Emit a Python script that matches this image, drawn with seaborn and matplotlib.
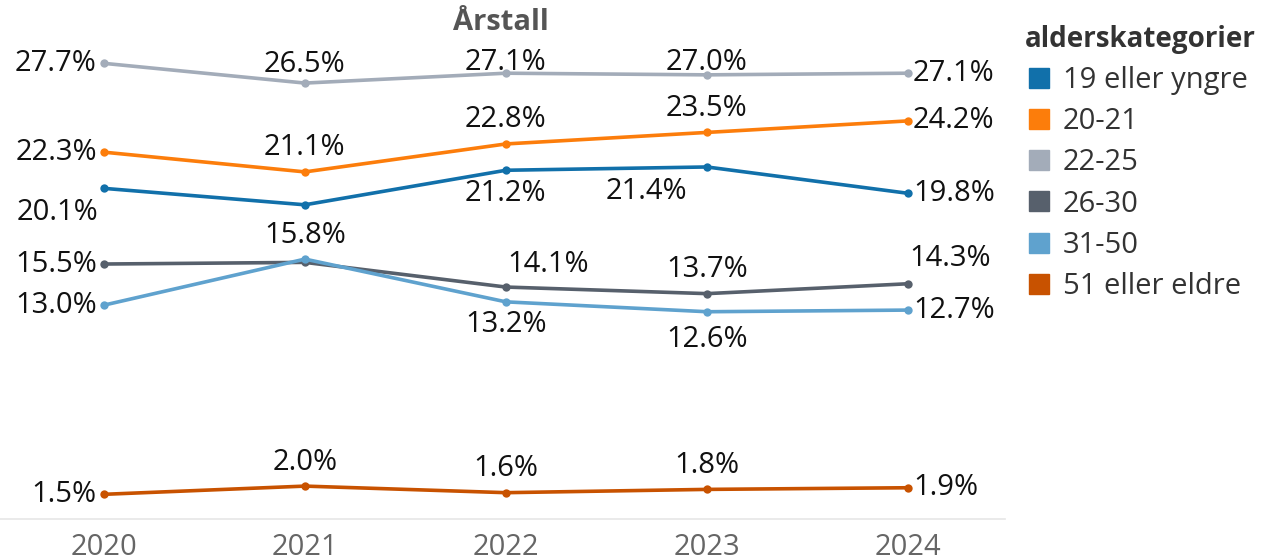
import pandas as pd
import matplotlib.pyplot as plt
import seaborn as sns
from matplotlib.lines import Line2D

# Share of each age group per year (%)
years = [2020, 2021, 2022, 2023, 2024]
categories = ['19 eller yngre', '20-21', '22-25', '26-30', '31-50', '51 eller eldre']
ageYoung = [20.1, 19.1, 21.2, 21.4, 19.8]
age2021 = [22.3, 21.1, 22.8, 23.5, 24.2]
age2225 = [27.7, 26.5, 27.1, 27.0, 27.1]
age2630 = [15.5, 15.6, 14.1, 13.7, 14.3]
age3150 = [13.0, 15.8, 13.2, 12.6, 12.7]
ageOld = [1.5, 2.0, 1.6, 1.8, 1.9]
seriesValues = [ageYoung, age2021, age2225, age2630, age3150, ageOld]

colors = ['#1170aa', '#fc7d0b', '#a3acb9', '#57606c', '#5fa2ce', '#c85200']

# label placement per point: None = no label; (dx, dy, ha) pixel offsets from point
placeL = (-7, 0, 'right')
placeR = (5, 0, 'left')
placeA = (0, 24, 'center')
placeB = (0, -23, 'center')
labelPlacement = [
    [(-46, -24, 'center'), None, placeB, (-60, -25, 'center'), placeR],
    [placeL, placeA, placeA, placeA, placeR],
    [placeL, (0, 19, 'center'), (0, 11, 'center'), (0, 12, 'center'), placeR],
    [placeL, None, (42, 23, 'center'), placeA, (42, 25, 'center')],
    [placeL, placeA, placeB, (0, -28, 'center'), placeR],
    [placeL, placeA, placeA, placeA, placeR],
]

rows = []
for cat, vals in zip(categories, seriesValues):
    for yr, v in zip(years, vals):
        rows.append({'Årstall': yr, 'alderskategorier': cat, 'andel': v})
df = pd.DataFrame(rows)

sns.set_style('white')
plt.rcParams['font.family'] = ['Open Sans', 'DejaVu Sans']

fig = plt.figure(figsize=(12.66, 5.6), dpi=100)
ax = fig.add_axes([0, 41 / 560, 1005 / 1266, 1 - 41 / 560])

sns.lineplot(data=df, x='Årstall', y='andel', hue='alderskategorier',
             hue_order=categories, palette=colors, marker='o', markersize=6,
             markeredgewidth=0, linewidth=2.6, legend=False, ax=ax)

for cat, vals, places in zip(categories, seriesValues, labelPlacement):
    for yr, v, p in zip(years, vals, places):
        if p is None:
            continue
        dx, dy, ha = p
        ax.annotate(f'{v:.1f}%', (yr, v), xytext=(dx, dy), textcoords='offset pixels',
                    ha=ha, va='center', fontsize=21, color='#111111')

ax.set_xlim(2019.483, 2024.483)
ax.set_ylim(0, 31.55)
ax.set_xticks(years)
ax.set_xticklabels([str(y) for y in years], fontsize=21, color='#666666')
ax.tick_params(axis='x', length=0, pad=10)
ax.set_yticks([])
ax.set_xlabel('')
ax.set_ylabel('')
for side in ['top', 'left', 'right']:
    ax.spines[side].set_visible(False)
ax.spines['bottom'].set_color('#e6e6e6')
ax.spines['bottom'].set_linewidth(1.2)

fig.text(501 / 1266, 1 - 22 / 560, 'Årstall', ha='center', va='center',
         fontsize=21, fontweight='bold', color='#555555')

handles = [Line2D([], [], marker='s', linestyle='', markersize=14, color=c) for c in colors]
leg = fig.legend(handles, categories, title='alderskategorier', loc='upper left',
                 bbox_to_anchor=(1013 / 1266, 1 - 13 / 560), frameon=False,
                 fontsize=21, title_fontsize=20, labelspacing=0.42,
                 handletextpad=0.3, handlelength=1.0, borderaxespad=0)
leg.get_title().set_fontweight('bold')
leg.get_title().set_color('#333333')
leg._legend_box.align = 'left'
for t in leg.get_texts():
    t.set_color('#333333')

plt.savefig('out.png', dpi=100)
plt.close()
